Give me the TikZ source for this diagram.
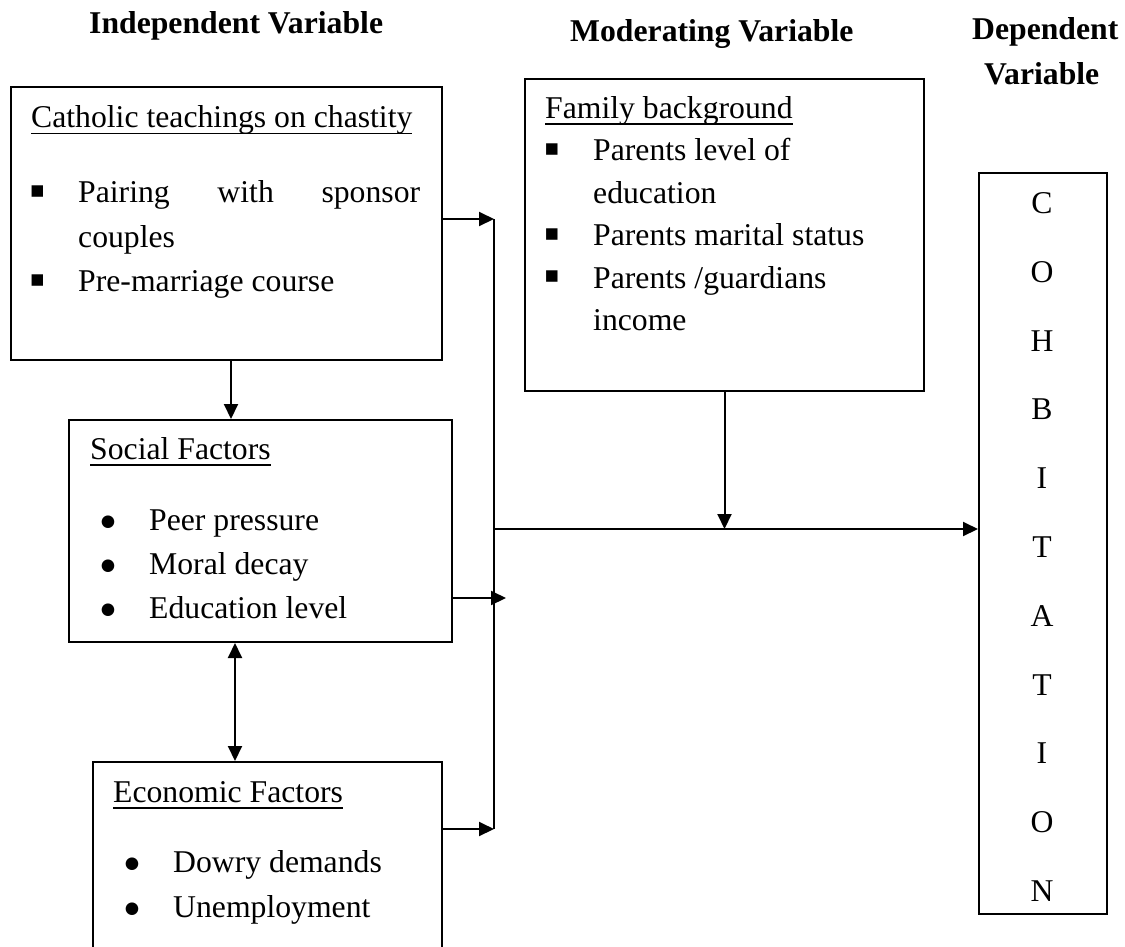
\documentclass[tikz,border=0pt]{standalone}
\usepackage{fontspec}
\setmainfont{Liberation Serif}
\newfontfamily\dejavu{DejaVu Sans}
\usetikzlibrary{arrows.meta}
\newsavebox\ulbox
\newcommand\myul[1]{\sbox\ulbox{#1}\rlap{\rule[-6.5pt]{\wd\ulbox}{1.5pt}}\usebox\ulbox}
\begin{document}
\begin{tikzpicture}[x=1pt,y=-1pt,
  box/.style={draw, line width=2pt, inner sep=0pt, anchor=north west},
  txt/.style={inner sep=0pt, anchor=base west, font=\fontsize{31.7}{38}\selectfont},
  hd/.style={inner sep=0pt, anchor=base west, font=\fontsize{31.7}{38}\selectfont\bfseries},
  let/.style={inner sep=0pt, anchor=base, font=\fontsize{31.7}{38}\selectfont},
  sqb/.style={inner sep=0pt, anchor=center, font=\fontsize{23}{26}\selectfont\dejavu},
  rdb/.style={inner sep=0pt, anchor=center, font=\fontsize{16.5}{20}\selectfont\dejavu},
  ln/.style={line width=2pt},
  arr/.style={line width=2pt, -{Triangle[length=15pt,width=14pt]}},
  arr2/.style={line width=2pt, {Triangle[length=15pt,width=14pt]}-{Triangle[length=15pt,width=14pt]}}]
\useasboundingbox (0,0) rectangle (1125,946);
\clip (0,0) rectangle (1125,946);

% boxes
\node[box, minimum width=431pt, minimum height=273pt] (cath) at (10,86) {};
\node[box, minimum width=399pt, minimum height=312pt] (fam) at (524,78) {};
\node[box, minimum width=383pt, minimum height=222pt] (soc) at (68,419) {};
\node[box, minimum width=349pt, minimum height=200pt] (eco) at (92,761) {};
\node[box, minimum width=128pt, minimum height=741pt] (coh) at (978,172) {};

% headings
\node[hd] (h1) at (89,33) {Independent Variable};
\node[hd] (h2) at (570,41) {Moderating Variable};
\node[hd] (h3) at (972,39) {Dependent};
\node[hd] (h4) at (984,84) {Variable};

% Catholic teachings
\node[txt] (c0) at (31,127.5) {\myul{Catholic teachings on chastity}};
\node[sqb] (cb1) at (37.5,191.5) {▪};
\node[txt] (c1) at (78,202.5) {\makebox[342pt][s]{Pairing with sponsor}};
\node[txt] (c2) at (78,247) {couples};
\node[sqb] (cb2) at (37.5,280.5) {▪};
\node[txt] (c3) at (78,291.5) {Pre-marriage course};

% Family background
\node[txt] (f0) at (545,118) {\myul{Family background}};
\node[sqb] (fb1) at (552,149.5) {▪};
\node[txt] (f1) at (593,160.5) {Parents level of};
\node[txt] (f2) at (593,203) {education};
\node[sqb] (fb2) at (552,234.5) {▪};
\node[txt] (f3) at (593,245.5) {Parents marital status};
\node[sqb] (fb3) at (552,277) {▪};
\node[txt] (f4) at (593,288) {Parents /guardians};
\node[txt] (f5) at (593,330.5) {income};

% Social factors
\node[txt] (s0) at (90,459) {\myul{Social Factors}};
\node[rdb] (sb1) at (108,522) {●};
\node[txt] (s1) at (149,530) {Peer pressure};
\node[rdb] (sb2) at (108,566) {●};
\node[txt] (s2) at (149,574) {Moral decay};
\node[rdb] (sb3) at (108,610) {●};
\node[txt] (s3) at (149,618) {Education level};

% Economic factors
\node[txt] (e0) at (113,802) {\myul{Economic Factors}};
\node[rdb] (eb1) at (132,864) {●};
\node[txt] (e1) at (173,872) {Dowry demands};
\node[rdb] (eb2) at (132,909) {●};
\node[txt] (e2) at (173,917) {Unemployment};

% COHABITATION
\foreach \L [count=\i] in {C,O,H,B,I,T,A,T,I,O,N}
  \node[let] (L\i) at (1042,{213.5+(\i-1)*68.8}) {\L};

% connectors
\coordinate (vtop) at (494,219);
\coordinate (vbot) at (494,829);
\coordinate (junc) at (494,529);
\coordinate (sarr) at (506,598);
\draw[ln] (vtop) -- (vbot);
\draw[arr] (cath.east |- vtop) -- (vtop);
\draw[arr] (soc.east |- sarr) -- (sarr);
\draw[arr] (eco.east |- vbot) -- (vbot);
\draw[arr] (junc) -- (coh.west |- junc);
\draw[arr] (fam.south) -- (fam.south |- junc);
\draw[arr] ([xshift=4.5pt]cath.south) -- ([xshift=4.5pt]cath.south |- soc.north);
\draw[arr2] ([xshift=-25.5pt]soc.south) -- ([xshift=-25.5pt]soc.south |- eco.north);
\end{tikzpicture}
\end{document}
